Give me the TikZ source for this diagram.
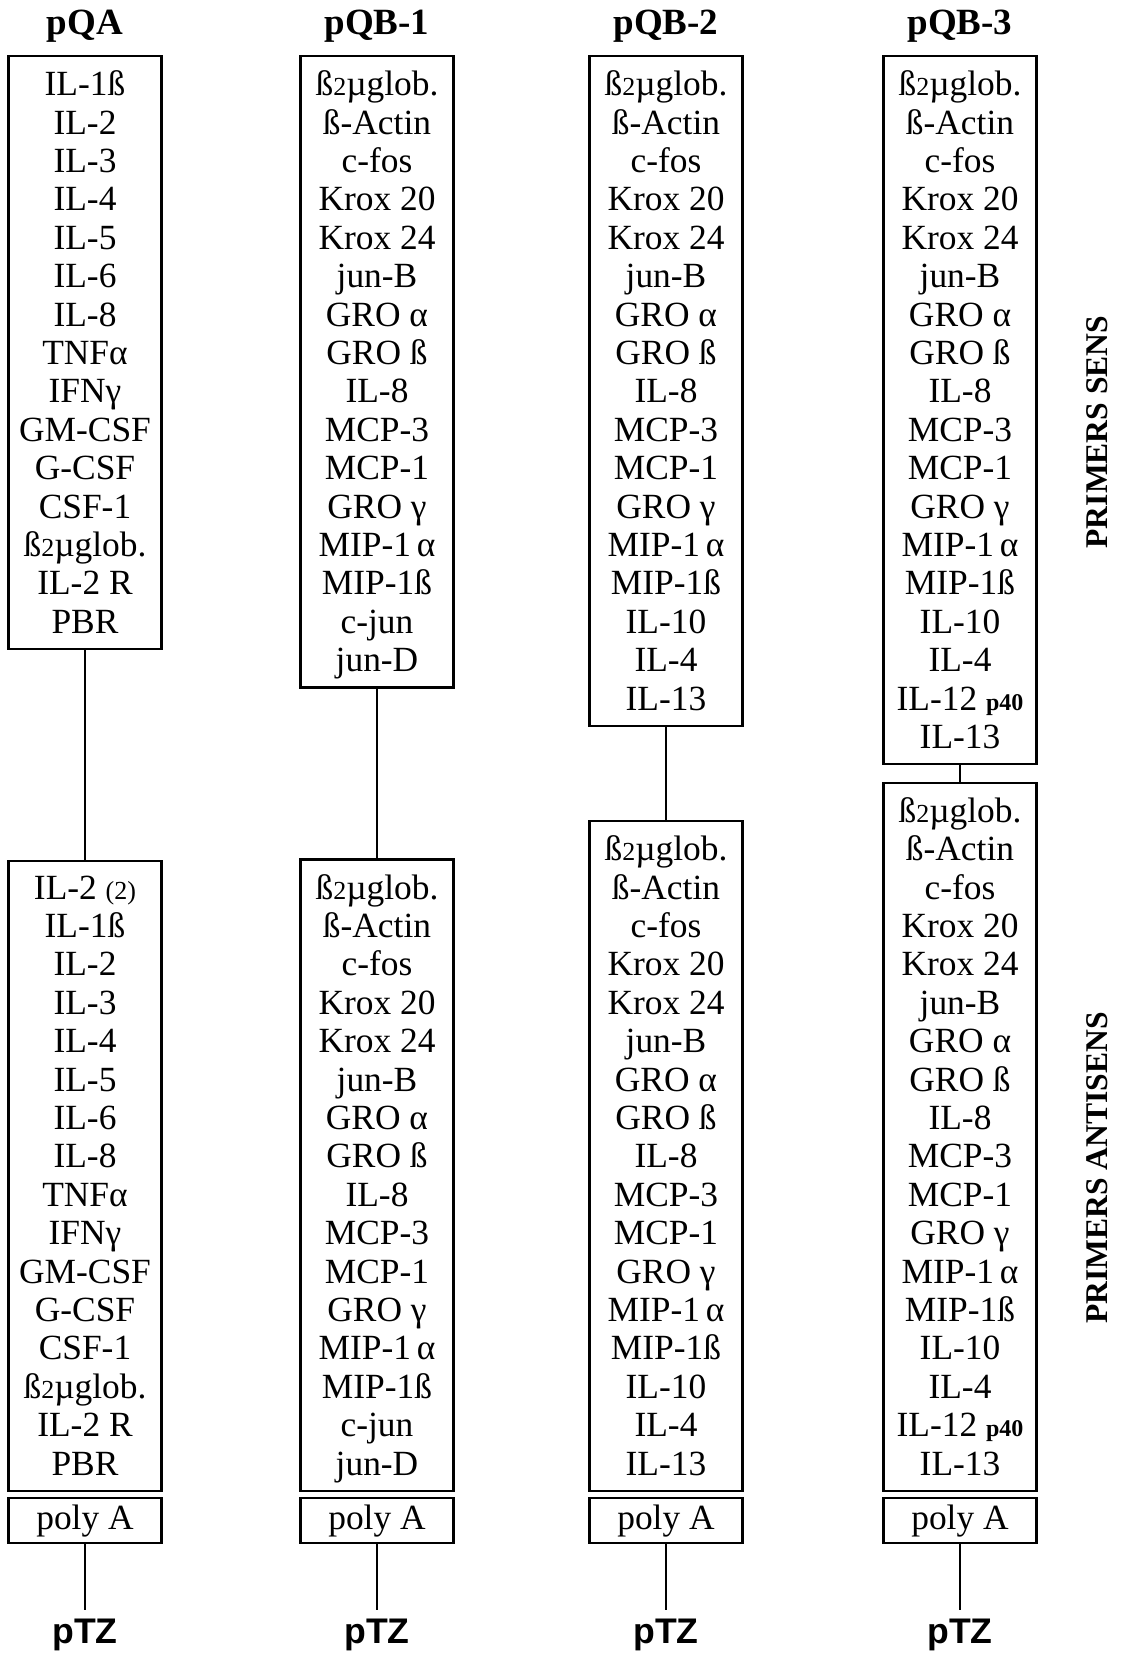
\documentclass[tikz,border=0pt]{standalone}
\usepackage{fontspec}
\setmainfont{Liberation Serif}
\newfontfamily\arialfont{Liberation Sans}
\usepackage{tikz}
\usetikzlibrary{positioning}

\newcommand\genefont{\fontsize{17.7}{19.2}\selectfont}
\newcommand\titlefont{\fontsize{18.5}{20}\selectfont\bfseries}
\newcommand\vecfont{\fontsize{17.8}{20}\selectfont\arialfont\bfseries}
\newcommand\sidefont{\fontsize{15.8}{17}\selectfont\bfseries}
\newcommand\smallnum[1]{{\fontsize{13}{13}\selectfont #1}}
\newcommand\btwo{ß\smallnum{2}µglob.}

\begin{document}
\begin{tikzpicture}[
    x=0.5pt, y=-0.5pt,
    title/.style={font=\titlefont, anchor=base},
    genes/.style={draw, line width=1.1pt, minimum width=76.5pt, align=center, font=\genefont,
        inner ysep=7.3pt, inner xsep=2pt, text depth=0.6pt},
    polya/.style={draw, line width=1.1pt, minimum width=76.5pt, minimum height=22.5pt, inner sep=0pt, font=\genefont},
    vector/.style={font=\vecfont, anchor=base, inner sep=4pt},
    link/.style={line width=1pt},
    side/.style={rotate=90, font=\sidefont},
]
    \useasboundingbox (0,0) rectangle (1123,1653);

    % pQA
    \node[title] (tA) at (85,35) {pQA};
    \node[genes, anchor=north] (sA) at (85,55) {IL-1ß\\IL-2\\IL-3\\IL-4\\IL-5\\IL-6\\IL-8\\TNFα\\IFNγ\\GM-CSF\\G-CSF\\CSF-1\\\btwo\\IL-2 R\\PBR};
    \node[genes, anchor=south] (aA) at (85,1492) {IL-2 \smallnum{(2)}\\IL-1ß\\IL-2\\IL-3\\IL-4\\IL-5\\IL-6\\IL-8\\TNFα\\IFNγ\\GM-CSF\\G-CSF\\CSF-1\\\btwo\\IL-2 R\\PBR};
    \node[polya, anchor=north] (pA) at (85,1497) {poly A};
    \node[vector] (zA) at (85,1643) {pTZ};
    \draw[link] (sA) -- (aA);
    \draw[link] (pA) -- (zA);

    % pQB-1
    \node[title] (tB1) at (377,35) {pQB-1};
    \node[genes, anchor=north] (sB1) at (377,55) {\btwo\\ß-Actin\\c-fos\\Krox 20\\Krox 24\\jun-B\\GRO α\\GRO ß\\IL-8\\MCP-3\\MCP-1\\GRO γ\\MIP-1\,α\\MIP-1ß\\c-jun\\jun-D};
    \node[genes, anchor=south] (aB1) at (377,1492) {\btwo\\ß-Actin\\c-fos\\Krox 20\\Krox 24\\jun-B\\GRO α\\GRO ß\\IL-8\\MCP-3\\MCP-1\\GRO γ\\MIP-1\,α\\MIP-1ß\\c-jun\\jun-D};
    \node[polya, anchor=north] (pB1) at (377,1497) {poly A};
    \node[vector] (zB1) at (377,1643) {pTZ};
    \draw[link] (sB1) -- (aB1);
    \draw[link] (pB1) -- (zB1);

    % pQB-2
    \node[title] (tB2) at (666,35) {pQB-2};
    \node[genes, anchor=north] (sB2) at (666,55) {\btwo\\ß-Actin\\c-fos\\Krox 20\\Krox 24\\jun-B\\GRO α\\GRO ß\\IL-8\\MCP-3\\MCP-1\\GRO γ\\MIP-1\,α\\MIP-1ß\\IL-10\\IL-4\\IL-13};
    \node[genes, anchor=south] (aB2) at (666,1492) {\btwo\\ß-Actin\\c-fos\\Krox 20\\Krox 24\\jun-B\\GRO α\\GRO ß\\IL-8\\MCP-3\\MCP-1\\GRO γ\\MIP-1\,α\\MIP-1ß\\IL-10\\IL-4\\IL-13};
    \node[polya, anchor=north] (pB2) at (666,1497) {poly A};
    \node[vector] (zB2) at (666,1643) {pTZ};
    \draw[link] (sB2) -- (aB2);
    \draw[link] (pB2) -- (zB2);

    % pQB-3
    \node[title] (tB3) at (960,35) {pQB-3};
    \node[genes, anchor=north] (sB3) at (960,55) {\btwo\\ß-Actin\\c-fos\\Krox 20\\Krox 24\\jun-B\\GRO α\\GRO ß\\IL-8\\MCP-3\\MCP-1\\GRO γ\\MIP-1\,α\\MIP-1ß\\IL-10\\IL-4\\IL-12 {\fontsize{12}{12}\selectfont\bfseries p40}\\IL-13};
    \node[genes, anchor=south] (aB3) at (960,1492) {\btwo\\ß-Actin\\c-fos\\Krox 20\\Krox 24\\jun-B\\GRO α\\GRO ß\\IL-8\\MCP-3\\MCP-1\\GRO γ\\MIP-1\,α\\MIP-1ß\\IL-10\\IL-4\\IL-12 {\fontsize{12}{12}\selectfont\bfseries p40}\\IL-13};
    \node[polya, anchor=north] (pB3) at (960,1497) {poly A};
    \node[vector] (zB3) at (960,1643) {pTZ};
    \draw[link] (sB3) -- (aB3);
    \draw[link] (pB3) -- (zB3);

    % side labels
    \node[side] (sens) at (1097,432) {PRIMERS SENS};
    \node[side] (antisens) at (1097,1168) {PRIMERS ANTISENS};
\end{tikzpicture}
\end{document}
